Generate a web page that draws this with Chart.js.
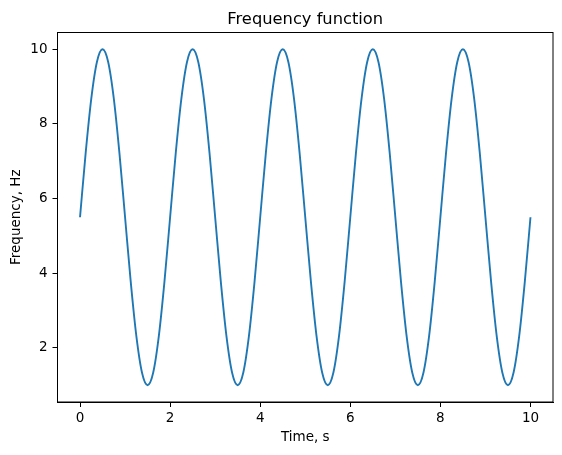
<!DOCTYPE html>
<html>
<head>
<meta charset="utf-8">
<script src="https://cdn.jsdelivr.net/npm/chart.js@4/dist/chart.umd.min.js"></script>
<style>
    html, body { margin: 0; padding: 0; background: #fff; }
    canvas { display: block; }
</style>
</head>
<body>
<canvas id="freqChart" width="562" height="455"></canvas>
<script>
const times = [
    0, 0.125, 0.25, 0.375, 0.5, 0.625, 0.75, 0.875, 1, 1.125, 1.25, 1.375, 1.5, 1.625, 1.75, 1.875,
    2, 2.125, 2.25, 2.375, 2.5, 2.625, 2.75, 2.875, 3, 3.125, 3.25, 3.375, 3.5, 3.625, 3.75, 3.875,
    4, 4.125, 4.25, 4.375, 4.5, 4.625, 4.75, 4.875, 5, 5.125, 5.25, 5.375, 5.5, 5.625, 5.75, 5.875,
    6, 6.125, 6.25, 6.375, 6.5, 6.625, 6.75, 6.875, 7, 7.125, 7.25, 7.375, 7.5, 7.625, 7.75, 7.875,
    8, 8.125, 8.25, 8.375, 8.5, 8.625, 8.75, 8.875, 9, 9.125, 9.25, 9.375, 9.5, 9.625, 9.75, 9.875,
    10
];
const freq = [
    5.5, 7.22, 8.68, 9.66, 10, 9.66, 8.68, 7.22, 5.5, 3.78, 2.32, 1.34, 1, 1.34, 2.32, 3.78,
    5.5, 7.22, 8.68, 9.66, 10, 9.66, 8.68, 7.22, 5.5, 3.78, 2.32, 1.34, 1, 1.34, 2.32, 3.78,
    5.5, 7.22, 8.68, 9.66, 10, 9.66, 8.68, 7.22, 5.5, 3.78, 2.32, 1.34, 1, 1.34, 2.32, 3.78,
    5.5, 7.22, 8.68, 9.66, 10, 9.66, 8.68, 7.22, 5.5, 3.78, 2.32, 1.34, 1, 1.34, 2.32, 3.78,
    5.5, 7.22, 8.68, 9.66, 10, 9.66, 8.68, 7.22, 5.5, 3.78, 2.32, 1.34, 1, 1.34, 2.32, 3.78,
    5.5
];
const xTicks = [0, 2, 4, 6, 8, 10];
const yTicks = [2, 4, 6, 8, 10];
const chartTitle = 'Frequency function';

const font = { family: 'DejaVu Sans', size: 13.5 };

// frame on all four sides + title, like matplotlib
const framePlugin = {
    id: 'frame',
    afterDraw(chart) {
        const { ctx, chartArea: a } = chart;
        ctx.save();
        ctx.strokeStyle = '#000';
        ctx.lineWidth = 1;
        ctx.strokeRect(a.left, a.top, a.right - a.left, a.bottom - a.top);
        ctx.fillStyle = '#000';
        ctx.font = '16.3px "DejaVu Sans"';
        ctx.textAlign = 'center';
        ctx.textBaseline = 'alphabetic';
        ctx.fillText(chartTitle, (a.left + a.right) / 2, 23.5);
        ctx.restore();
    }
};

const ctx = document.getElementById('freqChart').getContext('2d');
const freqChart = new Chart(ctx, {
    type: 'line',
    data: {
        datasets: [{
            data: times.map((t, i) => ({ x: t, y: freq[i] })),
            borderColor: '#1f77b4',
            borderWidth: 1.9,
            pointRadius: 0,
            fill: false,
            cubicInterpolationMode: 'monotone'
        }]
    },
    options: {
        responsive: false,
        animation: false,
        layout: { padding: { top: 32.5, right: 9, left: 0, bottom: 0 } },
        plugins: {
            legend: { display: false },
            tooltip: { enabled: false },
            title: { display: false }
        },
        scales: {
            x: {
                type: 'linear',
                min: -0.5,
                max: 10.5,
                afterBuildTicks: axis => { axis.ticks = xTicks.map(v => ({ value: v })); },
                afterFit: axis => { axis.height = 53; },
                grid: { drawOnChartArea: false, tickLength: 5, tickColor: '#000', tickWidth: 1 },
                border: { color: '#000', width: 1 },
                ticks: { color: '#000', font: font, padding: 3, maxRotation: 0 },
                title: { display: true, text: 'Time, s', color: '#000', font: font, padding: { top: 0, bottom: 9 } }
            },
            y: {
                type: 'linear',
                min: 0.55,
                max: 10.45,
                afterBuildTicks: axis => { axis.ticks = yTicks.map(v => ({ value: v })); },
                afterFit: axis => { axis.width = 57.5; },
                grid: { drawOnChartArea: false, tickLength: 5, tickColor: '#000', tickWidth: 1 },
                border: { color: '#000', width: 1 },
                ticks: { color: '#000', font: font, padding: 5 },
                title: { display: true, text: 'Frequency, Hz', color: '#000', font: font, padding: { top: 8, bottom: 0 } }
            }
        }
    },
    plugins: [framePlugin]
});
</script>
</body>
</html>
